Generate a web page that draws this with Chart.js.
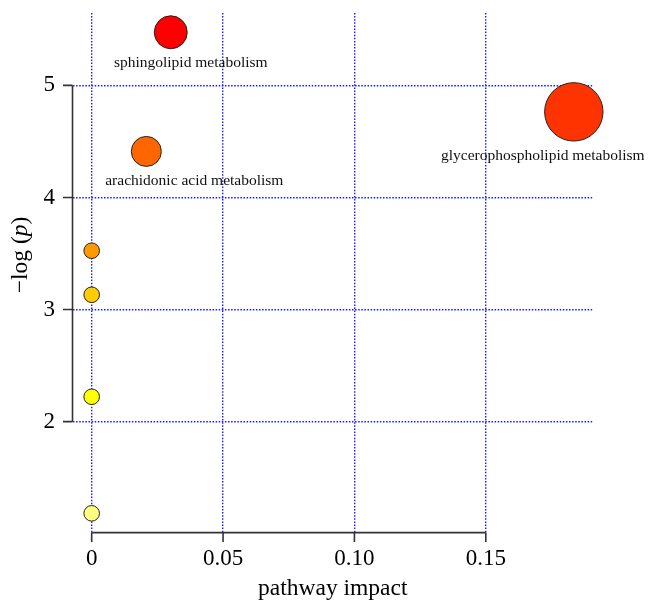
<!DOCTYPE html>
<html>
<head>
<meta charset="utf-8">
<script src="https://cdn.jsdelivr.net/npm/chart.js@4"></script>
<style>
  html, body { margin: 0; padding: 0; background: #fff; }
  #wrap { width: 648px; height: 601px; position: relative; }
</style>
</head>
<body>
<div id="wrap"><canvas id="chartCanvas"></canvas></div>
<script>
// pathway topology results
const pathways = [
  'sphingolipid metabolism',
  'glycerophospholipid metabolism',
  'arachidonic acid metabolism',
  '', '', '', ''
];
const impact = [0.0301, 0.1835, 0.0208, 0, 0, 0, 0];
const logP = [5.474, 4.764, 4.411, 3.525, 3.132, 2.222, 1.182];

const xTicks = [0, 0.05, 0.10, 0.15];
const xTickLabels = ['0', '0.05', '0.10', '0.15'];
const yTicks = [2, 3, 4, 5];
const yTickLabels = ['2', '3', '4', '5'];

// heat colours, ranked by -log(p)
const heatColors = ['#FF0000', '#FF3300', '#FF6600', '#FF9900', '#FFCC00', '#FFFF00', '#FFFF80'];
// horizontal nudge of each label relative to its bubble
const labelDx = [20, -31, 48, 0, 0, 0, 0];

const SERIF = '"Liberation Serif", "DejaVu Serif", serif';
const bubbleRadius = v => 7.8 + 50 * Math.sqrt(v);

const points = impact.map((v, i) => ({ x: v, y: logP[i] }));

const noScalePadding = s => {
  s.paddingTop = 0; s.paddingBottom = 0; s.paddingLeft = 0; s.paddingRight = 0;
};

// partial axis lines (R style) + y title with italic p + bubble labels
const decorations = {
  id: 'decorations',
  afterDatasetsDraw(chart) {
    const { ctx, chartArea, scales: { x, y } } = chart;
    ctx.save();
    ctx.strokeStyle = '#333';
    ctx.lineWidth = 1.6;
    ctx.beginPath();
    // y spine
    ctx.moveTo(chartArea.left, y.getPixelForValue(yTicks[0]));
    ctx.lineTo(chartArea.left, y.getPixelForValue(yTicks[yTicks.length - 1]));
    yTicks.forEach(v => {
      const py = y.getPixelForValue(v);
      ctx.moveTo(chartArea.left - 9.5, py);
      ctx.lineTo(chartArea.left, py);
    });
    // x spine
    ctx.moveTo(x.getPixelForValue(xTicks[0]), chartArea.bottom);
    ctx.lineTo(x.getPixelForValue(xTicks[xTicks.length - 1]), chartArea.bottom);
    xTicks.forEach(v => {
      const px = x.getPixelForValue(v);
      ctx.moveTo(px, chartArea.bottom);
      ctx.lineTo(px, chartArea.bottom + 9.5);
    });
    ctx.stroke();

    // bubble labels
    const meta = chart.getDatasetMeta(0);
    ctx.fillStyle = '#111';
    ctx.font = '15.5px ' + SERIF;
    ctx.textAlign = 'center';
    ctx.textBaseline = 'alphabetic';
    meta.data.forEach((pt, i) => {
      if (!pathways[i]) return;
      const r = bubbleRadius(impact[i]);
      ctx.fillText(pathways[i], pt.x + labelDx[i], pt.y + r + 18.5);
    });

    // y axis title: −log (p)
    const parts = [
      { t: '\u2212log (', f: '23.5px ' + SERIF },
      { t: 'p', f: 'italic 23.5px ' + SERIF },
      { t: ')', f: '23.5px ' + SERIF }
    ];
    let total = 0;
    parts.forEach(p => { ctx.font = p.f; p.w = ctx.measureText(p.t).width; total += p.w; });
    ctx.translate(27, 255);
    ctx.rotate(-Math.PI / 2);
    ctx.textAlign = 'left';
    ctx.fillStyle = '#000';
    let cx = -total / 2;
    parts.forEach(p => { ctx.font = p.f; ctx.fillText(p.t, cx, 0); cx += p.w; });
    ctx.restore();
  }
};

new Chart(document.getElementById('chartCanvas'), {
  type: 'scatter',
  data: {
    datasets: [{
      data: points,
      clip: false,
      backgroundColor: heatColors,
      borderColor: '#222',
      borderWidth: 1,
      pointRadius: ctx => bubbleRadius(ctx.raw ? ctx.raw.x : 0),
      pointHoverRadius: ctx => bubbleRadius(ctx.raw ? ctx.raw.x : 0),
    }],
  },
  options: {
    responsive: true,
    maintainAspectRatio: false,
    animation: false,
    layout: { autoPadding: false, padding: { left: 0, right: 55, top: 13, bottom: 0 } },
    plugins: {
      legend: { display: false },
      tooltip: { enabled: false },
    },
    scales: {
      x: {
        type: 'linear',
        min: -0.0073,
        max: 0.1908,
        afterBuildTicks: s => { s.ticks = xTicks.map(v => ({ value: v })); },
        afterFit: s => { s.height = 68.4; noScalePadding(s); },
        ticks: {
          padding: 13,
          color: '#000',
          font: { family: SERIF, size: 23 },
          callback: v => xTickLabels[xTicks.indexOf(v)],
        },
        grid: {
          color: '#1a1aff',
          lineWidth: 1.4,
          drawTicks: false,
        },
        border: { display: false, dash: [1.5, 1.6] },
        title: {
          display: true,
          text: 'pathway impact',
          color: '#000',
          font: { family: SERIF, size: 23.5, lineHeight: 1 },
          padding: 0,
        },
      },
      y: {
        type: 'linear',
        min: 1.01,
        max: 5.646,
        afterBuildTicks: s => { s.ticks = yTicks.map(v => ({ value: v })); },
        afterFit: s => { s.width = 72.5; noScalePadding(s); },
        ticks: {
          padding: 17.5,
          color: '#000',
          font: { family: SERIF, size: 23 },
          callback: v => yTickLabels[yTicks.indexOf(v)],
        },
        grid: {
          color: '#1a1aff',
          lineWidth: 1.4,
          drawTicks: false,
        },
        border: { display: false, dash: [1.5, 1.6] },
      },
    },
  },
  plugins: [decorations],
});
</script>
</body>
</html>
